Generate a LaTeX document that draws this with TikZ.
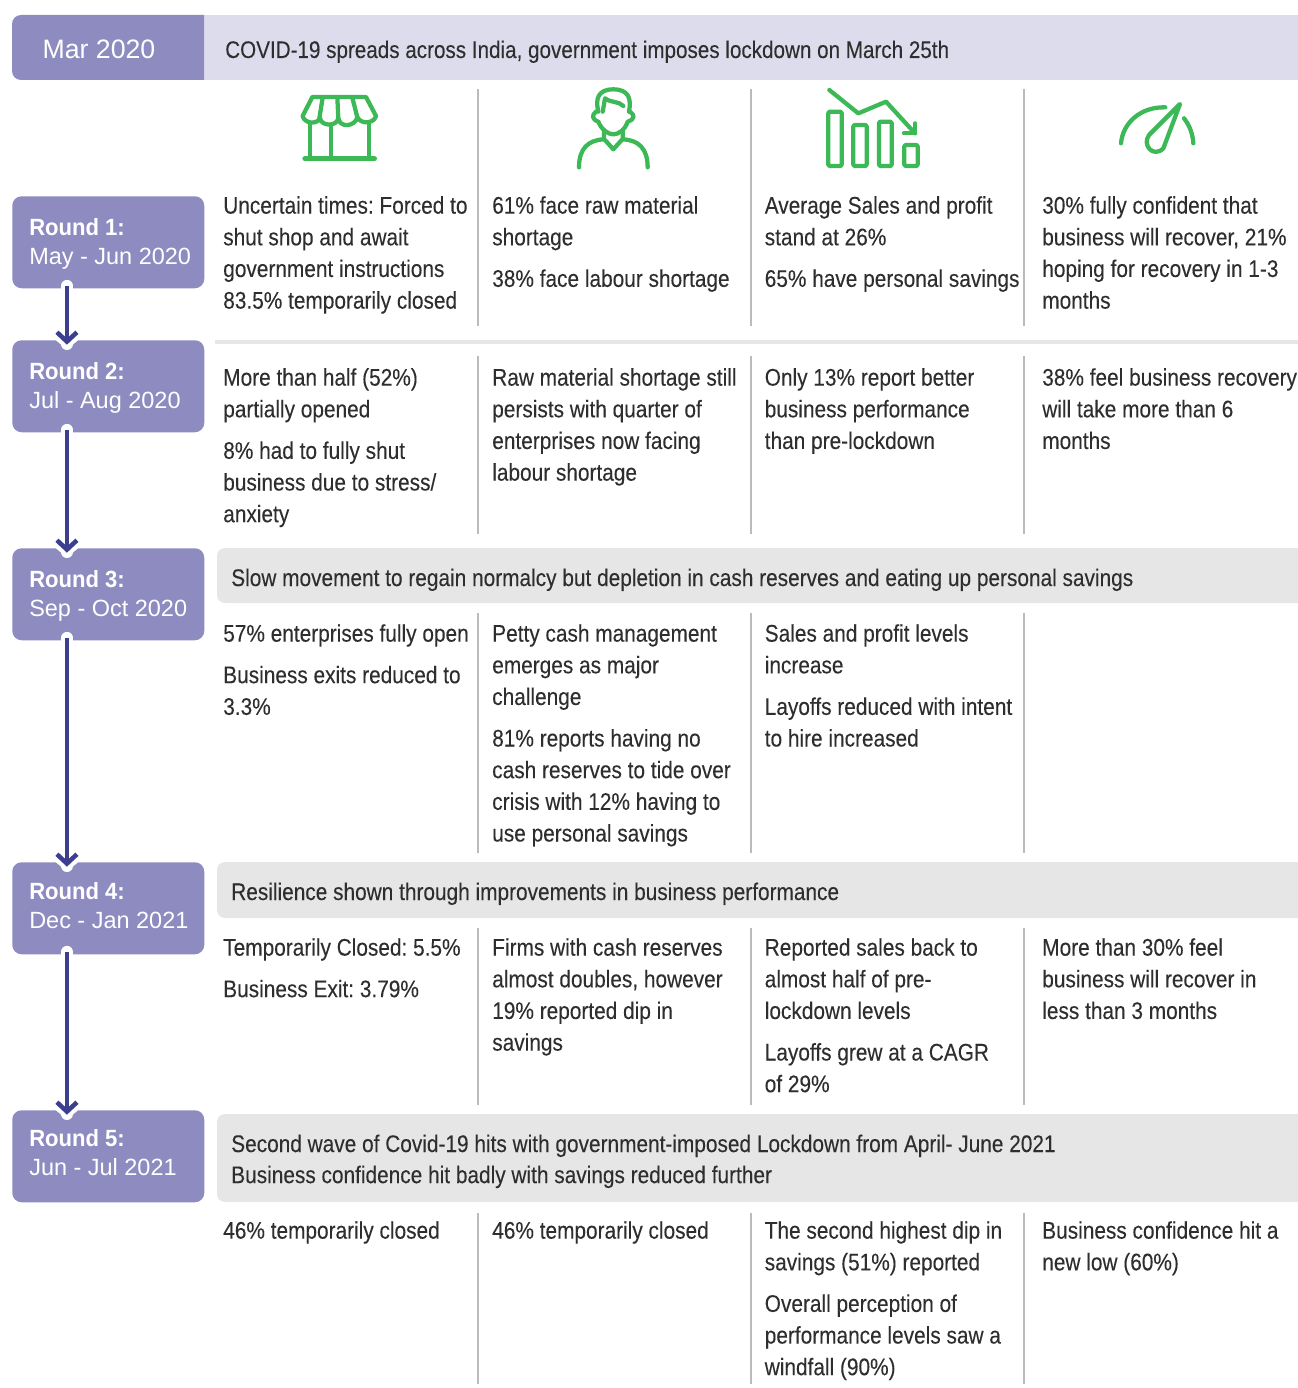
\documentclass[tikz,border=0pt]{standalone}
\usepackage{fontspec}
\setmainfont[FakeStretch=0.868,FakeBold=0.12]{Liberation Sans}
\newfontfamily\headfont[FakeStretch=0.86,FakeBold=0.12]{Liberation Sans}
\newfontfamily\roundfont[BoldFeatures={FakeStretch=0.94}]{Liberation Sans}
\usetikzlibrary{arrows.meta}
\definecolor{boxc}{HTML}{8E8BC0}
\definecolor{banc}{HTML}{DDDCEC}
\definecolor{greyc}{HTML}{E6E6E6}
\definecolor{arrc}{HTML}{3C3F8F}
\definecolor{iconc}{HTML}{3CB857}
\definecolor{divc}{HTML}{BBBBBB}
\definecolor{txtc}{HTML}{2E2E2E}
\newcommand{\cellgap}{\\[7.4pt]}
\newcommand{\rlab}[2]{{\bfseries #1}\\#2}
\tikzset{
 x=0.75pt,y=-0.75pt,
 roundbox/.style={fill=boxc,rounded corners=7pt,minimum width=144pt,minimum height=69pt,inner sep=0pt,anchor=north west},
 roundtxt/.style={text=white,anchor=west,align=left,inner sep=0pt,font=\roundfont\frenchspacing\fontsize{17.6}{21.8}\selectfont},
 cell/.style={anchor=north west,inner sep=0pt,align=left,text=txtc,yshift=0.6pt,font=\frenchspacing\fontsize{18}{23.75}\selectfont},
 line/.style={anchor=base west,inner sep=0pt,text=txtc,font=\frenchspacing\fontsize{18}{23.75}\selectfont},
 divline/.style={divc,line width=1.5pt},
 conn/.style={arrc,line width=3.4pt,-{Straight Barb[length=7pt,width=15pt,line width=3.4pt]}},
 icon/.style={iconc,line width=3.2pt,line cap=round,line join=round},
}
\newcommand{\conn}[2]{%
 \draw[white,line width=9pt,line cap=round] ([xshift=-31pt,yshift=2pt]#1.south) -- ([xshift=-31pt,yshift=-3pt]#2.north);
 \fill[white] ([xshift=-39.5pt]#2.north) -- ([xshift=-31pt,yshift=-7.2pt]#2.north) -- ([xshift=-22.5pt]#2.north) -- cycle;
 \draw[conn] ([xshift=-31pt,yshift=2pt]#1.south) -- ([xshift=-31pt,yshift=-3.5pt]#2.north);}
\begin{document}
\begin{tikzpicture}
\useasboundingbox (0,0) rectangle (1298,1388);
% header
\fill[banc] (204,15) rectangle (1298,80);
\fill[boxc] (204,15) -- (21,15) to[out=180,in=90] (12,24) -- (12,71) to[out=-90,in=180] (21,80) -- (204,80) -- cycle;
\node[text=white,font=\roundfont\fontsize{20}{24}\selectfont,inner sep=0pt] (mar) at (99,49) {Mar 2020};
\node[line,font=\headfont\frenchspacing\fontsize{18}{23.75}\selectfont] (head) at (225,58) {COVID-19 spreads across India, government imposes lockdown on March 25th};
% banners
\fill[greyc] (1298,548) -- (225,548) to[out=180,in=90] (217,556) -- (217,595) to[out=-90,in=180] (225,603) -- (1298,603) -- cycle;
\fill[greyc] (1298,862) -- (225,862) to[out=180,in=90] (217,870) -- (217,910) to[out=-90,in=180] (225,918) -- (1298,918) -- cycle;
\fill[greyc] (1298,1114) -- (225,1114) to[out=180,in=90] (217,1122) -- (217,1194) to[out=-90,in=180] (225,1202) -- (1298,1202) -- cycle;
\draw[greyc,line width=3pt] (215,341.5) -- (1298,341.5);
\node[line] (b3) at (231,586) {Slow movement to regain normalcy but depletion in cash reserves and eating up personal savings};
\node[line] (b4) at (231,900) {Resilience shown through improvements in business performance};
\node[cell,yshift=-0.6pt,font=\frenchspacing\fontsize{18}{23.3}\selectfont] (b5) at (231,1130) {\strut Second wave of Covid-19 hits with government-imposed Lockdown from April- June 2021\\Business confidence hit badly with savings reduced further};
% dividers
\foreach \xx in {477.5,750.5,1023.5}{
 \draw[divline] (\xx,89) -- (\xx,326);
 \draw[divline] (\xx,356) -- (\xx,534);
 \draw[divline] (\xx,613) -- (\xx,853);
 \draw[divline] (\xx,928) -- (\xx,1105);
 \draw[divline] (\xx,1213) -- (\xx,1384);
}
% round boxes
\node[roundbox] (r1) at (12,196) {};
\node[roundbox] (r2) at (12,340) {};
\node[roundbox] (r3) at (12,548) {};
\node[roundbox] (r4) at (12,862) {};
\node[roundbox] (r5) at (12,1110) {};
\node[roundtxt] (t1) at (29,243.5) {\rlab{Round 1:}{May - Jun 2020}};
\node[roundtxt] (t2) at (29,387.5) {\rlab{Round 2:}{Jul - Aug 2020}};
\node[roundtxt] (t3) at (29,595.5) {\rlab{Round 3:}{Sep - Oct 2020}};
\node[roundtxt] (t4) at (29,905.5) {\rlab{Round 4:}{Dec - Jan 2021}};
\node[roundtxt] (t5) at (29,1153) {\rlab{Round 5:}{Jun - Jul 2021}};
\conn{r1}{r2}\conn{r2}{r3}\conn{r3}{r4}\conn{r4}{r5}
% row 1
\node[cell] (c11) at (223,192) {\strut Uncertain times: Forced to\\shut shop and await\\government instructions\\83.5\% temporarily closed};
\node[cell] (c12) at (492,192) {\strut 61\% face raw material\\shortage\cellgap 38\% face labour shortage};
\node[cell] (c13) at (764.5,192) {\strut Average Sales and profit\\stand at 26\%\cellgap 65\% have personal savings};
\node[cell] (c14) at (1042,192) {\strut 30\% fully confident that\\business will recover, 21\%\\hoping for recovery in 1-3\\months};
% row 2
\node[cell] (c21) at (223,364) {\strut More than half (52\%)\\partially opened\cellgap 8\% had to fully shut\\business due to stress/\\anxiety};
\node[cell] (c22) at (492,364) {\strut Raw material shortage still\\persists with quarter of\\enterprises now facing\\labour shortage};
\node[cell] (c23) at (764.5,364) {\strut Only 13\% report better\\business performance\\than pre-lockdown};
\node[cell] (c24) at (1042,364) {\strut 38\% feel business recovery\\will take more than 6\\months};
% row 3
\node[cell] (c31) at (223,620) {\strut 57\% enterprises fully open\cellgap Business exits reduced to\\3.3\%};
\node[cell] (c32) at (492,620) {\strut Petty cash management\\emerges as major\\challenge\cellgap 81\% reports having no\\cash reserves to tide over\\crisis with 12\% having to\\use personal savings};
\node[cell] (c33) at (764.5,620) {\strut Sales and profit levels\\increase\cellgap Layoffs reduced with intent\\to hire increased};
% row 4
\node[cell] (c41) at (223,934) {\strut Temporarily Closed: 5.5\%\cellgap Business Exit: 3.79\%};
\node[cell] (c42) at (492,934) {\strut Firms with cash reserves\\almost doubles, however\\19\% reported dip in\\savings};
\node[cell] (c43) at (764.5,934) {\strut Reported sales back to\\almost half of pre-\\lockdown levels\cellgap Layoffs grew at a CAGR\\of 29\%};
\node[cell] (c44) at (1042,934) {\strut More than 30\% feel\\business will recover in\\less than 3 months};
% row 5
\node[cell] (c51) at (223,1217) {\strut 46\% temporarily closed};
\node[cell] (c52) at (492,1217) {\strut 46\% temporarily closed};
\node[cell] (c53) at (764.5,1217) {\strut The second highest dip in\\savings (51\%) reported\cellgap Overall perception of\\performance levels saw a\\windfall (90\%)};
\node[cell] (c54) at (1042,1217) {\strut Business confidence hit a\\new low (60\%)};
% icons: shop and person
\begin{scope}[shift={(210pt,-60pt)},x=0.25pt,y=-0.25pt]
 \draw[icon] (97,51) -- (258,51) -- (288,108) .. controls (282,130) and (245,135) .. (232,112) .. controls (225,140) and (180,145) .. (175,115) .. controls (170,140) and (125,140) .. (120,115) .. controls (110,135) and (72,130) .. (68,108) -- cycle;
 \draw[icon] (128,53) -- (118,115) (172,53) -- (175,115) (217,53) -- (232,112);
 \draw[icon] (90,130) -- (90,235) (152,135) -- (152,235) (268,130) -- (268,235);
 \draw[icon,line width=4pt] (75,236) -- (283,236);
 \draw[icon] (955,95) .. controls (945,55) and (955,28) .. (1000,28) .. controls (1045,28) and (1055,55) .. (1047,95);
 \draw[icon] (968,95) .. controls (972,75) and (973,65) .. (975,55) .. controls (995,70) and (1015,62) .. (1030,78);
 \draw[icon] (948,95) .. controls (935,105) and (935,118) .. (955,125) .. controls (965,150) and (985,163) .. (1000,163) .. controls (1015,163) and (1035,150) .. (1043,125) .. controls (1065,118) and (1065,105) .. (1050,95);
 \draw[icon] (972,150) -- (972,178) .. controls (925,180) and (897,205) .. (897,262);
 \draw[icon] (1028,150) -- (1028,178) .. controls (1075,180) and (1103,205) .. (1103,262);
 \draw[icon] (975,180) -- (1000,208) -- (1025,180);
\end{scope}
% icons: chart and gauge
\begin{scope}[shift={(600pt,-60pt)},x=0.25pt,y=-0.25pt]
 \draw[icon] (88,30) -- (175,100) -- (258,65) -- (345,160);
 \draw[icon] (345,130) -- (345,160) -- (312,160);
 \draw[icon,rounded corners=1pt] (85,95) rectangle (125,258);
 \draw[icon,rounded corners=1pt] (160,135) rectangle (200,258);
 \draw[icon,rounded corners=1pt] (237,125) rectangle (275,258);
 \draw[icon,rounded corners=1pt] (313,195) rectangle (353,258);
 \draw[icon] (963,190) .. controls (968,130) and (1020,80) .. (1096,82);
 \draw[icon] (1152,115) .. controls (1168,135) and (1178,160) .. (1180,190);
 \draw[icon] (1140,72) -- (1047,165) .. controls (1025,195) and (1060,235) .. (1090,205) -- cycle;
\end{scope}
\end{tikzpicture}
\end{document}
